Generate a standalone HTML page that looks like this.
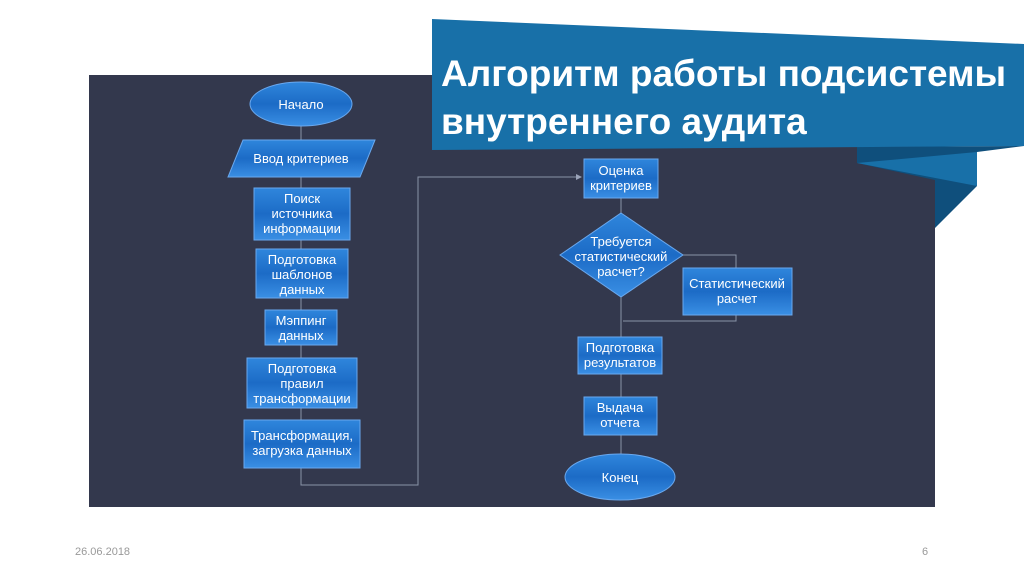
<!DOCTYPE html>
<html><head><meta charset="utf-8"><style>
html,body{margin:0;padding:0;background:#fff;}
svg{display:block;}
text{font-family:"Liberation Sans","DejaVu Sans",sans-serif;}
</style></head><body>
<svg width="1024" height="574" viewBox="0 0 1024 574" xmlns="http://www.w3.org/2000/svg">
<defs>
<linearGradient id="g" x1="0" y1="0" x2="0" y2="1">
<stop offset="0" stop-color="#2f86dc"/><stop offset="0.5" stop-color="#1c6bc6"/><stop offset="1" stop-color="#3a8fe4"/>
</linearGradient>
</defs>
<rect x="89" y="75" width="846" height="432" fill="#33384d"/>
<!-- banner fold -->
<polygon points="857,147 1024,146 977,152 977,186 935,228 935,180 857,163" fill="#0f4f7c"/>
<polygon points="857,163 977,152 977,186" fill="#1870a8"/>
<polygon points="432,19 1024,44 1024,146 432,150" fill="#1870a8"/>
<text x="441" y="86" font-size="37" font-weight="bold" fill="#fff">Алгоритм работы подсистемы</text>
<text x="441" y="134" font-size="37" font-weight="bold" fill="#fff">внутреннего аудита</text>
<g stroke="#8a93a8" stroke-width="1" fill="none">
<line x1="301" y1="125" x2="301" y2="140"/>
<line x1="301" y1="177" x2="301" y2="188"/>
<line x1="301" y1="240" x2="301" y2="249"/>
<line x1="301" y1="298" x2="301" y2="310"/>
<line x1="301" y1="345" x2="301" y2="358"/>
<line x1="301" y1="408" x2="301" y2="420"/>
<polyline points="301,468 301,485 418,485 418,177 580,177"/>
<line x1="621" y1="198" x2="621" y2="213"/>
<polyline points="683,255 736,255 736,268"/>
<polyline points="736,315 736,321 623,321"/>
<line x1="621" y1="297" x2="621" y2="337"/>
<line x1="621" y1="374" x2="621" y2="397"/>
<line x1="621" y1="435" x2="621" y2="455"/>
</g>
<polygon points="576,174 582,177 576,180" fill="#9aa3b8"/>
<g fill="url(#g)" stroke="#6aa8ee" stroke-width="1">
<ellipse cx="301" cy="104" rx="51" ry="22"/>
<polygon points="243,140 375,140 360,177 228,177"/>
<rect x="254" y="188" width="96" height="52"/>
<rect x="256" y="249" width="92" height="49"/>
<rect x="265" y="310" width="72" height="35"/>
<rect x="247" y="358" width="110" height="50"/>
<rect x="244" y="420" width="116" height="48"/>
<rect x="584" y="159" width="74" height="39"/>
<polygon points="621,213 683,255 621,297 560,255"/>
<rect x="683" y="268" width="109" height="47"/>
<rect x="578" y="337" width="84" height="37"/>
<rect x="584" y="397" width="73" height="38"/>
<ellipse cx="620" cy="477" rx="55" ry="23"/>
</g>
<g fill="#fff" font-size="13" text-anchor="middle">
<text x="301" y="109">Начало</text>
<text x="301" y="163">Ввод критериев</text>
<text x="302" y="203">Поиск</text><text x="302" y="218">источника</text><text x="302" y="233">информации</text>
<text x="302" y="264">Подготовка</text><text x="302" y="279">шаблонов</text><text x="302" y="294">данных</text>
<text x="301" y="325">Мэппинг</text><text x="301" y="340">данных</text>
<text x="302" y="373">Подготовка</text><text x="302" y="388">правил</text><text x="302" y="403">трансформации</text>
<text x="302" y="440">Трансформация,</text><text x="302" y="455">загрузка данных</text>
<text x="621" y="175">Оценка</text><text x="621" y="190">критериев</text>
<text x="621" y="246">Требуется</text><text x="621" y="261">статистический</text><text x="621" y="276">расчет?</text>
<text x="737" y="288">Статистический</text><text x="737" y="303">расчет</text>
<text x="620" y="352">Подготовка</text><text x="620" y="367">результатов</text>
<text x="620" y="412">Выдача</text><text x="620" y="427">отчета</text>
<text x="620" y="482">Конец</text>
</g>
<text x="75" y="555" font-size="11" fill="#999">26.06.2018</text>
<text x="922" y="555" font-size="11" fill="#999">6</text>
</svg>
</body></html>
